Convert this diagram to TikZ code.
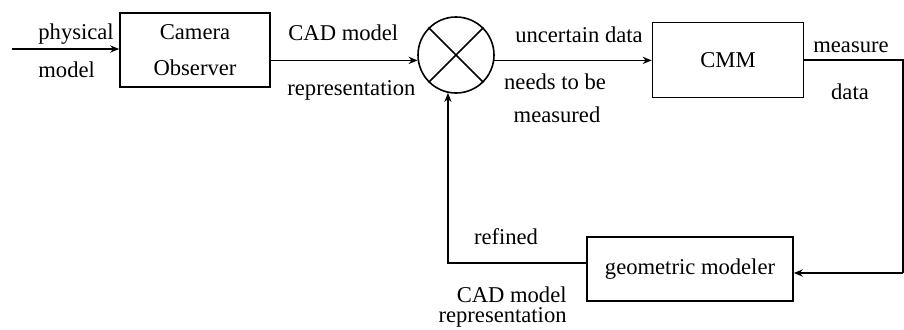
\documentclass[tikz,border=0pt]{standalone}
\usepackage{fontspec}
\setmainfont{Liberation Serif}
\usetikzlibrary{arrows.meta,positioning}
\tikzset{
  wire/.style={line width=0.8pt},
  flow/.style={wire,-{Stealth[length=4.5pt,width=3.6pt]}},
  txt/.style={font=\fontsize{11.3}{18}\selectfont},
  box/.style={draw, line width=0.8pt, fill=white, inner sep=2pt, align=center, txt},
  lbl/.style={inner sep=0pt, txt},
  sumnode/.style={circle, draw, line width=0.8pt, minimum size=38pt, inner sep=0pt}
}

\begin{document}
\begin{tikzpicture}[x=0.5pt,y=-0.5pt]
  \useasboundingbox (0,0) rectangle (904,329);
  % blocks
  \node[box,minimum width=75pt,minimum height=37pt] (cam) at (195,50) {Camera\\Observer};
  \node[sumnode] (sum) at (456,55) {};
  \draw[wire] (sum.north west) -- (sum.south east) (sum.north east) -- (sum.south west);
  \node[box,minimum width=75.5pt,minimum height=37.5pt] (cmm) at (728,60) {CMM};
  \node[box,minimum width=103pt,minimum height=32pt] (geo) at (690,269) {geometric modeler};
  % connectors
  \coordinate (src) at (12,49);
  \coordinate (ne) at (903,60);
  \coordinate (se) at (903,273);
  \draw[flow] (src) -- (src -| cam.west);
  \draw[flow] (cam.east |- sum.188) -- (sum.188);
  \draw[flow] (sum.352) -- (cmm.west |- sum.352);
  \draw[wire] (cmm.east) -- (ne) -- (se);
  \draw[flow] (se) -- (se -| geo.east);
  \draw[flow] ([yshift=3pt]geo.west) -| (sum.258);
  % labels
  \node[lbl,anchor=west] (physlbl) at (38,34) {physical};
  \node[lbl,anchor=west] (modlbl) at (38,70) {model};
  \node[lbl,anchor=west] (cadlbl) at (288,33) {CAD model};
  \node[lbl,anchor=west] (replbl) at (287,90) {representation};
  \node[lbl] (unclbl) at (579,35) {uncertain data};
  \node[lbl] (needlbl) at (555,82) {needs to be};
  \node[lbl] (measlbl) at (557,115) {measured};
  \node[lbl] (mealbl) at (851,47) {measure};
  \node[lbl] (datlbl) at (850,92) {data};
  \node[lbl] (reflbl) at (506,237) {refined};
  \node[lbl,anchor=east] (cadlblb) at (567,295) {CAD model};
  \node[lbl,anchor=south east] (replblb) at (567,328) {representation};
\end{tikzpicture}
\end{document}
